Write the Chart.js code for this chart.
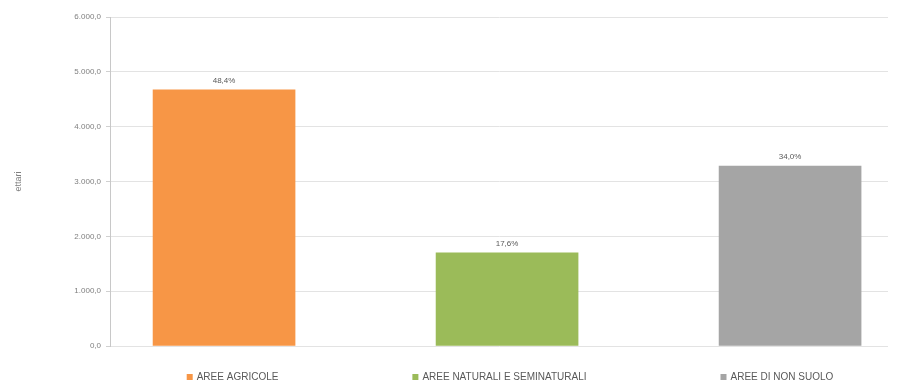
<!DOCTYPE html>
<html>
<head>
<meta charset="utf-8">
<script src="https://cdn.jsdelivr.net/npm/chart.js@4"></script>
<style>
  html, body { margin: 0; padding: 0; background: #fff; }
  #wrap { width: 898px; height: 386px; position: relative; }
</style>
</head>
<body>
<div id="wrap"><canvas id="myChart"></canvas></div>
<script>
// categories and values
let categories = ['AREE AGRICOLE', 'AREE NATURALI E SEMINATURALI', 'AREE DI NON SUOLO'];
let ettari = [4670, 1700, 3280];
let percentuali = ['48,4%', '17,6%', '34,0%'];
let colori = ['#F79646', '#9BBB59', '#A5A5A5'];
let yTicks = [0, 1000, 2000, 3000, 4000, 5000, 6000];

let fontFamily = "'Liberation Sans Narrow', 'Liberation Sans', Arial, sans-serif";

function formatIt(v){
  let s = Math.round(v).toString().replace(/\B(?=(\d{3})+(?!\d))/g, '.');
  return s + ',0';
}

// percentage labels above bars
const pctLabels = {
  id: 'pctLabels',
  afterDatasetsDraw(chart){
    const ctx = chart.ctx;
    const meta = chart.getDatasetMeta(0);
    ctx.save();
    ctx.font = '8px ' + fontFamily;
    ctx.fillStyle = '#595959';
    ctx.textAlign = 'center';
    ctx.textBaseline = 'bottom';
    meta.data.forEach((bar, i) => {
      ctx.fillText(percentuali[i], bar.x, bar.y - 5);
    });
    ctx.restore();
  }
};

// legend along the bottom
const bottomLegend = {
  id: 'bottomLegend',
  afterDraw(chart){
    const ctx = chart.ctx;
    ctx.save();
    ctx.font = '10px ' + fontFamily;
    ctx.textBaseline = 'middle';
    const box = 6, gap = 4, spacing = 134;
    const widths = categories.map(c => box + gap + ctx.measureText(c).width);
    const total = widths.reduce((a, b) => a + b, 0) + spacing * (categories.length - 1);
    let x = 510 - total / 2;
    const y = 377;
    categories.forEach((c, i) => {
      ctx.fillStyle = colori[i];
      ctx.fillRect(x, y - box / 2, box, box);
      ctx.fillStyle = '#595959';
      ctx.fillText(c, x + box + gap, y);
      x += widths[i] + spacing;
    });
    ctx.restore();
  }
};

function renderChart(){
  let ctx = document.getElementById('myChart');
  new Chart(ctx, {
    type: 'bar',
    data: {
      datasets: [{
        data: ettari.map((v, i) => ({ x: i, y: v })),
        backgroundColor: colori,
        barThickness: 142
      }]
    },
    options: {
      responsive: true,
      maintainAspectRatio: false,
      animation: false,
      layout: { padding: { top: 17, right: 10, bottom: 40, left: 13 } },
      plugins: { legend: { display: false }, tooltip: { enabled: false } },
      scales: {
        x: {
          type: 'linear',
          display: false,
          offset: false,
          min: -0.403,
          max: 2.346
        },
        y: {
          min: 0,
          max: 6000,
          afterBuildTicks: s => { s.ticks = yTicks.map(v => ({ value: v })); },
          afterFit: s => { s.width = 97; },
          ticks: {
            callback: v => formatIt(v),
            color: '#7f7f7f',
            font: { size: 8, family: fontFamily },
            padding: 5
          },
          grid: { color: '#e3e3e3', tickLength: 4, tickColor: '#d0d0d0' },
          border: { color: '#c8c8c8' },
          title: {
            display: true,
            text: 'ettari',
            color: '#7f7f7f',
            font: { size: 9, family: fontFamily },
            padding: { top: 0, bottom: 0 }
          }
        }
      }
    },
    plugins: [pctLabels, bottomLegend]
  });
}

renderChart();
</script>
</body>
</html>
